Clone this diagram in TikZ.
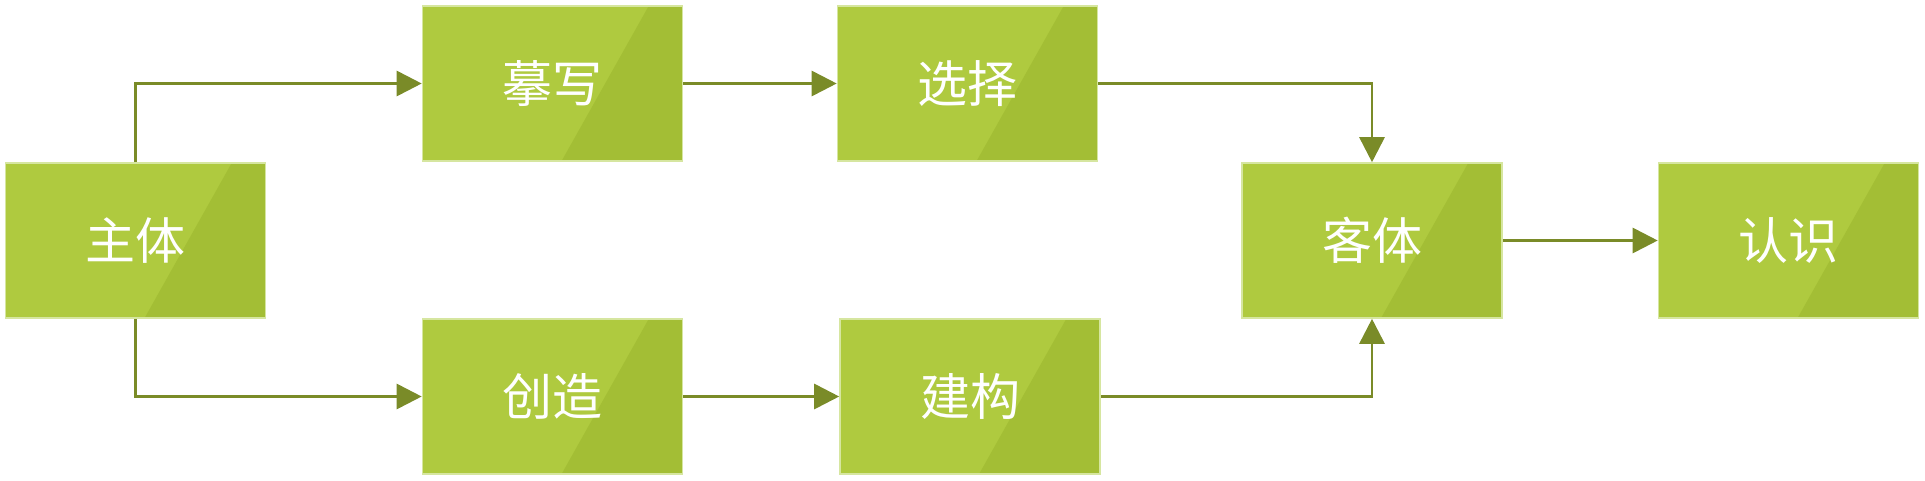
\documentclass[tikz,border=0pt]{standalone}
\usepackage{fontspec}
\newfontfamily\cjk{Noto Sans CJK SC}
\usetikzlibrary{calc,arrows.meta}
\definecolor{boxlight}{HTML}{AFCA3F}
\definecolor{boxdark}{HTML}{A3BE35}
\definecolor{boxedge}{HTML}{D6E6A0}
\definecolor{arrowgreen}{HTML}{7A8B28}
\begin{document}
\begin{tikzpicture}[x=1pt,y=-1pt]
\tikzset{box/.style={rectangle, minimum width=260pt, minimum height=155pt,
  inner sep=0pt, fill=boxlight, draw=boxedge, line width=1.6pt, text=white,
  font=\cjk\fontsize{50}{50}\selectfont,
  path picture={\fill[boxdark]
    ($(path picture bounding box.north west)!0.87!(path picture bounding box.north east)$)
    -- ($(path picture bounding box.south west)!0.535!(path picture bounding box.south east)$)
    -- (path picture bounding box.south east)
    -- (path picture bounding box.north east) -- cycle;}}}
\tikzset{link/.style={draw=arrowgreen, line width=2.8pt,
  -{Triangle[length=25pt,width=25pt]}}}
\useasboundingbox (0,0) rectangle (1925,480);
\node[box] (subj) at (135.5,240.5) {主体};
\node[box] (copy) at (552.5,83.5) {摹写};
\node[box] (pick) at (967.5,83.5) {选择};
\node[box] (make) at (552.5,396.5) {创造};
\node[box] (build) at (970,396.5) {建构};
\node[box] (obj) at (1372,240.5) {客体};
\node[box] (know) at (1788.5,240.5) {认识};
% upper branch
\draw[link] (subj.north) |- (copy.west);
\draw[link] (copy.east) -- (pick.west);
\draw[link] (pick.east) -| (obj.north);
% lower branch
\draw[link] (subj.south) |- (make.west);
\draw[link] (make.east) -- (build.west);
\draw[link] (build.east) -| (obj.south);
\draw[link] (obj.east) -- (know.west);
\end{tikzpicture}
\end{document}
